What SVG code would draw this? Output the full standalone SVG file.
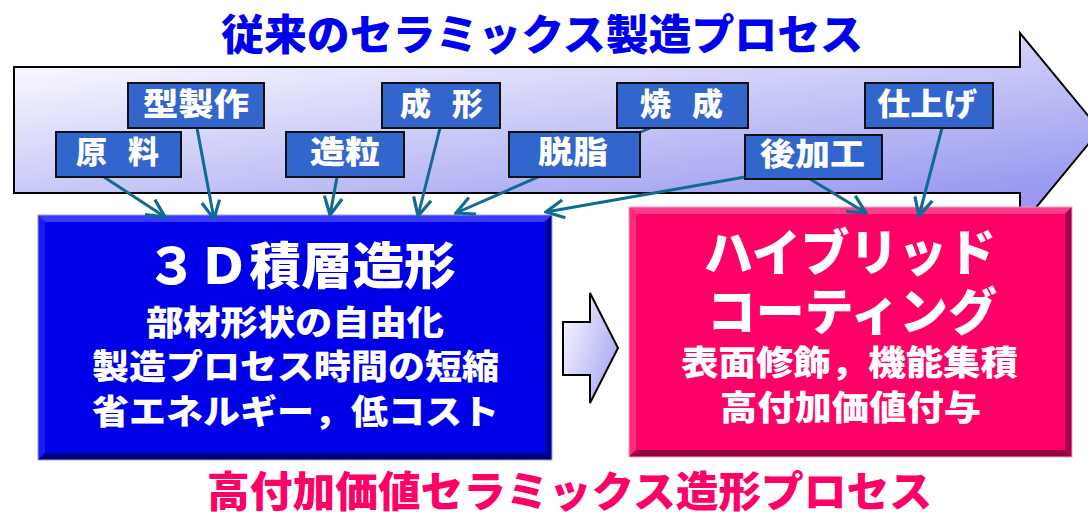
<svg xmlns="http://www.w3.org/2000/svg" width="1088" height="512" viewBox="0 0 1088 512">
  <style>
    .jp { font-family: "Noto Sans CJK JP", "Noto Sans", sans-serif; font-weight: 900; }
    .title { font-size: 42px; }
    .lbl { fill: #3366cc; stroke: #111111; stroke-width: 2; }
    .lbltxt { font-size: 31px; fill: #ffffff; }
    .big { font-size: 50px; fill: #ffffff; }
    .sub { font-size: 34px; fill: #ffffff; }
    .conn { stroke: #0f6a94; stroke-width: 3; fill: none; marker-end: url(#vhead); }
  </style>
  <defs>
    <linearGradient id="flowGrad" gradientUnits="userSpaceOnUse" x1="14" y1="67" x2="46" y2="315">
      <stop offset="0" stop-color="#f8f8ff"/>
      <stop offset="1" stop-color="#9a9af0"/>
    </linearGradient>
    <linearGradient id="smallGrad" x1="0" y1="0.2" x2="1" y2="0.8">
      <stop offset="0" stop-color="#f6f6ff"/>
      <stop offset="1" stop-color="#a4a4f2"/>
    </linearGradient>
    <marker id="vhead" markerUnits="userSpaceOnUse" viewBox="-22 -12 24 24" refX="0" refY="0" markerWidth="24" markerHeight="24" orient="auto">
      <path d="M-18,-9 L0,0 L-18,9" fill="none" stroke="#0f6a94" stroke-width="3.2"/>
    </marker>
  </defs>

  <rect width="1088" height="512" fill="#ffffff"/>

  <!-- title -->
  <text class="jp title" x="221" y="50" fill="#0000f0" textLength="642" lengthAdjust="spacingAndGlyphs">従来のセラミックス製造プロセス</text>

  <!-- big process arrow -->
  <g id="flow-arrow">
    <polygon points="14,67 1020,67 1020,33 1100,130 1020,227 1020,193 14,193" fill="url(#flowGrad)" stroke="#000000" stroke-width="2" stroke-linejoin="miter"/>
  </g>

  <!-- 3D additive manufacturing box -->
  <g id="box-3d">
    <rect x="38" y="215" width="514" height="245" fill="#0000e8"/>
    <polygon points="38,215 552,215 545,222 45,222" fill="#3a3aff"/>
    <polygon points="38,215 45,222 45,453 38,460" fill="#1a1af6"/>
    <polygon points="552,215 552,460 545,453 545,222" fill="#00009a"/>
    <polygon points="38,460 45,453 545,453 552,460" fill="#00007c"/>
    <rect x="38" y="215" width="514" height="245" fill="none" stroke="#9aa0d8" stroke-width="1"/>
    <text class="jp big" x="146" y="284" textLength="310" lengthAdjust="spacingAndGlyphs">３Ｄ積層造形</text>
    <text class="jp sub" x="146" y="335" textLength="298" lengthAdjust="spacingAndGlyphs">部材形状の自由化</text>
    <text class="jp sub" x="92" y="379" textLength="407" lengthAdjust="spacingAndGlyphs">製造プロセス時間の短縮</text>
    <text class="jp sub" x="92" y="424" textLength="407" lengthAdjust="spacingAndGlyphs">省エネルギー，低コスト</text>
  </g>

  <!-- small arrow between boxes -->
  <g id="mid-arrow">
    <polygon points="563,322 590,322 590,293 618,348 590,403 590,375 563,375" fill="url(#smallGrad)" stroke="#000000" stroke-width="2"/>
  </g>

  <!-- hybrid coating box -->
  <g id="box-hybrid">
    <rect x="629" y="207" width="443" height="250" fill="#ff0066"/>
    <polygon points="629,207 1072,207 1065,214 636,214" fill="#ff3d8c"/>
    <polygon points="629,207 636,214 636,450 629,457" fill="#ff2a7a"/>
    <polygon points="1072,207 1072,457 1065,450 1065,214" fill="#a8004a"/>
    <polygon points="629,457 636,450 1065,450 1072,457" fill="#96003e"/>
    <rect x="629" y="207" width="443" height="250" fill="none" stroke="#e8a0c0" stroke-width="1"/>
    <text class="jp big" x="704" y="271" textLength="292" lengthAdjust="spacingAndGlyphs">ハイブリッド</text>
    <text class="jp big" x="707" y="330" textLength="290" lengthAdjust="spacingAndGlyphs">コーティング</text>
    <text class="jp sub" x="681" y="375" textLength="337" lengthAdjust="spacingAndGlyphs">表面修飾，機能集積</text>
    <text class="jp sub" x="720" y="420" textLength="261" lengthAdjust="spacingAndGlyphs">高付加価値付与</text>
  </g>

  <!-- connectors -->
  <g id="connectors">
    <line class="conn" x1="104" y1="177" x2="165" y2="217"/>
    <line class="conn" x1="197" y1="128" x2="214" y2="219"/>
    <line class="conn" x1="337" y1="177" x2="330" y2="215"/>
    <line class="conn" x1="440" y1="128" x2="418" y2="216"/>
    <line class="conn" x1="650" y1="128" x2="456" y2="213"/>
    <line class="conn" x1="745" y1="177" x2="546" y2="212"/>
    <line class="conn" x1="810" y1="179" x2="866" y2="213"/>
    <line class="conn" x1="942" y1="128" x2="919" y2="216"/>
  </g>

  <!-- process step nodes -->
  <g id="node-genryo">
    <rect class="lbl" x="56" y="132" width="125" height="45"/>
    <text class="jp lbltxt" x="76" y="163" textLength="83" lengthAdjust="spacing">原 料</text>
  </g>
  <g id="node-kataseisaku">
    <rect class="lbl" x="128" y="83" width="136" height="45"/>
    <text class="jp lbltxt" x="143" y="115" textLength="106" lengthAdjust="spacingAndGlyphs">型製作</text>
  </g>
  <g id="node-zoryu">
    <rect class="lbl" x="286" y="132" width="118" height="45"/>
    <text class="jp lbltxt" x="310" y="163" textLength="70" lengthAdjust="spacingAndGlyphs">造粒</text>
  </g>
  <g id="node-seikei">
    <rect class="lbl" x="382" y="83" width="118" height="45"/>
    <text class="jp lbltxt" x="400" y="115" textLength="83" lengthAdjust="spacing">成 形</text>
  </g>
  <g id="node-dasshi">
    <rect class="lbl" x="509" y="132" width="131" height="45"/>
    <text class="jp lbltxt" x="538" y="163" textLength="70" lengthAdjust="spacingAndGlyphs">脱脂</text>
  </g>
  <g id="node-shosei">
    <rect class="lbl" x="617" y="83" width="131" height="45"/>
    <text class="jp lbltxt" x="640" y="115" textLength="83" lengthAdjust="spacing">焼 成</text>
  </g>
  <g id="node-atokako">
    <rect class="lbl" x="745" y="135" width="137" height="44"/>
    <text class="jp lbltxt" x="760" y="165" textLength="105" lengthAdjust="spacingAndGlyphs">後加工</text>
  </g>
  <g id="node-shiage">
    <rect class="lbl" x="865" y="83" width="128" height="45"/>
    <text class="jp lbltxt" x="877" y="115" textLength="100" lengthAdjust="spacingAndGlyphs">仕上げ</text>
  </g>

  <!-- bottom caption -->
  <text class="jp title" x="207" y="507" fill="#ff0066" textLength="725" lengthAdjust="spacingAndGlyphs">高付加価値セラミックス造形プロセス</text>
</svg>
